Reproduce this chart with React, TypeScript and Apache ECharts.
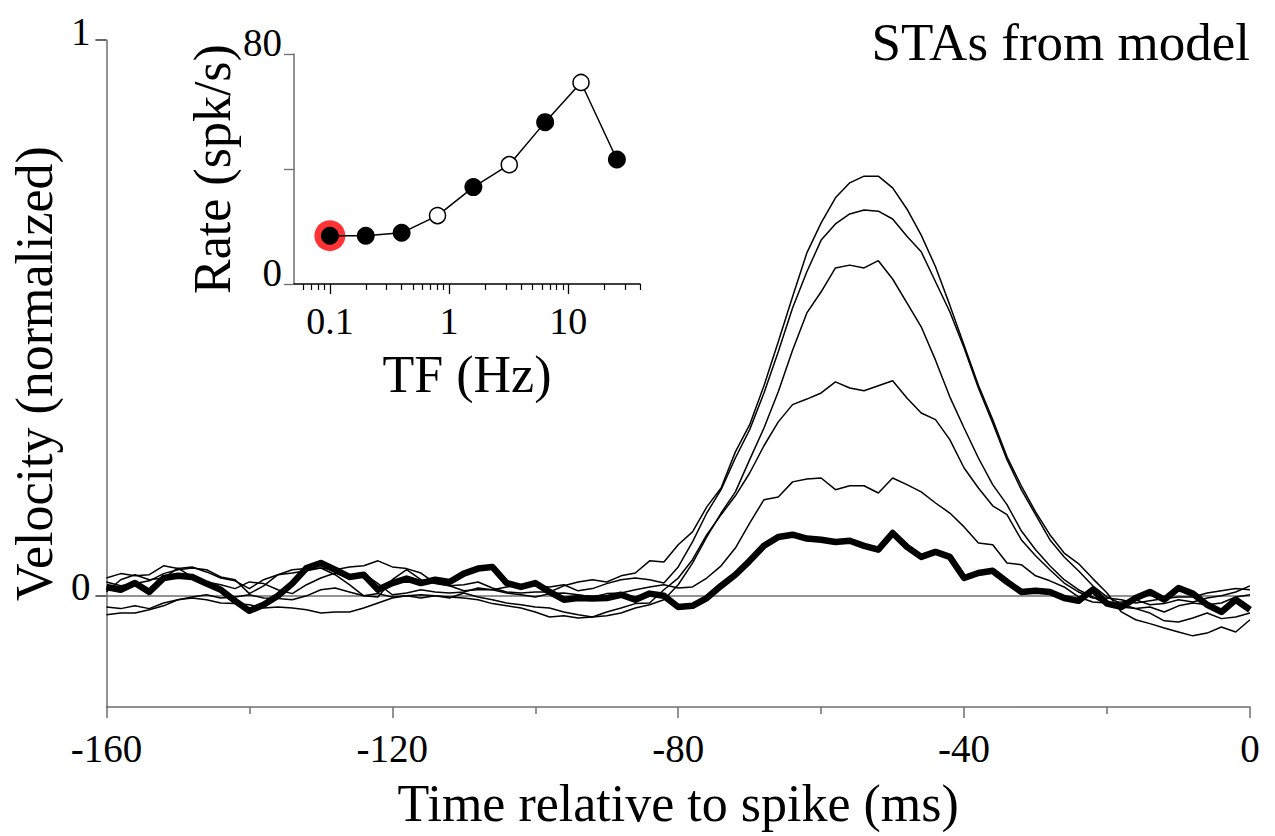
import React, { useEffect, useRef } from "react";
import * as echarts from "echarts";

// ---- Main panel data (time relative to spike, ms; velocity normalized) ----
const timeMs = [
  -160, -158, -156, -154, -152, -150, -148, -146, -144, -142,
  -140, -138, -136, -134, -132, -130, -128, -126, -124, -122,
  -120, -118, -116, -114, -112, -110, -108, -106, -104, -102,
  -100, -98, -96, -94, -92, -90, -88, -86, -84, -82,
  -80, -78, -76, -74, -72, -70, -68, -66, -64, -62,
  -60, -58, -56, -54, -52, -50, -48, -46, -44, -42,
  -40, -38, -36, -34, -32, -30, -28, -26, -24, -22,
  -20, -18, -16, -14, -12, -10, -8, -6, -4, -2,
  0,
];

const staA = [
  0.032, 0.040, 0.036, 0.038, 0.054, 0.049, 0.052, 0.043, 0.032, 0.027,
  0.013, 0.029, 0.038, 0.041, 0.045, 0.050, 0.047, 0.052, 0.054, 0.063,
  0.052, 0.049, 0.041, 0.023, 0.018, 0.020, 0.025, 0.014, 0.007, 0.005,
  0.007, 0.007, 0.018, 0.025, 0.029, 0.025, 0.036, 0.041, 0.063, 0.061,
  0.092, 0.115, 0.160, 0.194, 0.259, 0.308, 0.378, 0.457, 0.538, 0.617,
  0.671, 0.716, 0.743, 0.755, 0.755, 0.734, 0.696, 0.649, 0.592, 0.523,
  0.451, 0.379, 0.317, 0.250, 0.198, 0.151, 0.110, 0.077, 0.058, 0.031,
  0.005, -0.029, -0.043, -0.050, -0.058, -0.065, -0.072, -0.067, -0.056, -0.065,
  -0.043,
];

const staB = [
  0.025, 0.018, 0.022, 0.027, 0.040, 0.047, 0.050, 0.047, 0.034, 0.029,
  0.004, 0.018, 0.038, 0.047, 0.049, 0.050, 0.038, 0.020, 0.000, -0.002,
  0.029, 0.047, 0.029, 0.022, 0.018, 0.009, 0.011, 0.011, 0.016, 0.020,
  0.018, 0.016, 0.020, 0.009, 0.013, 0.022, 0.029, 0.032, 0.029, 0.023,
  0.052, 0.097, 0.149, 0.191, 0.248, 0.299, 0.365, 0.439, 0.518, 0.583,
  0.640, 0.669, 0.687, 0.694, 0.692, 0.678, 0.647, 0.619, 0.565, 0.511,
  0.446, 0.374, 0.311, 0.245, 0.191, 0.146, 0.101, 0.070, 0.045, 0.018,
  -0.002, -0.014, -0.023, -0.031, -0.045, -0.047, -0.040, -0.031, -0.041, -0.038,
  -0.031,
];

const staC = [
  -0.020, -0.023, -0.018, -0.023, -0.013, -0.007, -0.002, 0.002, -0.004, -0.002,
  0.002, -0.004, -0.005, -0.007, 0.000, 0.011, 0.014, 0.007, 0.000, 0.004,
  -0.002, 0.000, 0.002, 0.000, -0.002, -0.004, -0.007, -0.014, -0.018, -0.022,
  -0.029, -0.038, -0.036, -0.040, -0.038, -0.036, -0.031, -0.022, -0.016, -0.007,
  0.020, 0.059, 0.106, 0.149, 0.187, 0.245, 0.302, 0.367, 0.442, 0.509,
  0.547, 0.590, 0.595, 0.590, 0.603, 0.570, 0.527, 0.484, 0.424, 0.358,
  0.302, 0.248, 0.200, 0.164, 0.117, 0.083, 0.054, 0.029, 0.011, -0.002,
  -0.016, -0.020, -0.023, -0.020, -0.029, -0.018, -0.013, -0.016, -0.013, -0.002,
  0.002,
];

const staD = [
  -0.034, -0.031, -0.031, -0.025, -0.018, -0.007, -0.004, -0.007, -0.013, -0.014,
  -0.016, -0.022, -0.020, -0.022, -0.025, -0.031, -0.029, -0.029, -0.022, -0.013,
  -0.004, 0.000, -0.004, 0.000, -0.004, 0.005, -0.002, -0.007, -0.013, -0.016,
  -0.020, -0.022, -0.029, -0.034, -0.038, -0.029, -0.022, -0.014, -0.013, 0.011,
  0.032, 0.065, 0.110, 0.146, 0.180, 0.221, 0.270, 0.313, 0.344, 0.354,
  0.365, 0.385, 0.374, 0.369, 0.378, 0.387, 0.356, 0.329, 0.317, 0.281,
  0.230, 0.194, 0.162, 0.146, 0.101, 0.072, 0.047, 0.023, 0.007, -0.004,
  -0.004, -0.007, -0.013, -0.009, -0.005, -0.002, -0.002, 0.005, 0.009, 0.013,
  0.011,
];

const staE = [
  0.007, 0.029, 0.038, 0.029, 0.032, 0.050, 0.034, 0.025, 0.020, 0.013,
  0.025, 0.022, 0.011, 0.004, 0.020, 0.032, 0.041, 0.032, 0.040, 0.022,
  0.002, 0.005, 0.011, 0.007, 0.005, 0.007, 0.014, 0.011, 0.005, 0.002,
  -0.002, 0.004, 0.005, 0.002, -0.002, 0.004, 0.005, 0.011, 0.016, 0.020,
  0.014, 0.016, 0.032, 0.054, 0.086, 0.131, 0.173, 0.178, 0.205, 0.210,
  0.212, 0.191, 0.198, 0.198, 0.185, 0.212, 0.200, 0.187, 0.167, 0.149,
  0.124, 0.095, 0.092, 0.059, 0.056, 0.036, 0.027, 0.016, -0.002, -0.011,
  -0.013, -0.011, -0.007, -0.016, -0.014, -0.007, -0.011, -0.004, 0.000, 0.007,
  0.018,
];

// thick trace (lowest temporal frequency, highlighted in the inset)
const staLowTF = [
  0.016, 0.011, 0.023, 0.007, 0.032, 0.036, 0.034, 0.022, 0.011, -0.009,
  -0.027, -0.016, 0.000, 0.022, 0.050, 0.059, 0.047, 0.034, 0.038, 0.011,
  0.023, 0.031, 0.023, 0.029, 0.025, 0.040, 0.049, 0.052, 0.023, 0.016,
  0.023, 0.007, -0.007, -0.004, -0.005, -0.004, 0.002, -0.007, 0.004, 0.000,
  -0.020, -0.018, -0.004, 0.018, 0.038, 0.063, 0.090, 0.106, 0.110, 0.103,
  0.101, 0.097, 0.099, 0.090, 0.083, 0.113, 0.088, 0.070, 0.079, 0.070,
  0.032, 0.041, 0.045, 0.025, 0.007, 0.009, 0.007, -0.004, -0.009, 0.011,
  -0.014, -0.020, -0.004, 0.007, -0.007, 0.014, 0.004, -0.016, -0.029, -0.007,
  -0.025,
];

const thinTraces = [staA, staB, staC, staD, staE];

// ---- Inset data (tuning curve) ----
const tfHz = [0.1, 0.2, 0.4, 0.8, 1.6, 3.2, 6.4, 12.8, 25.6];
const rateSpk = [16.8, 16.8, 17.8, 23.8, 33.7, 41.5, 56.3, 70.1, 43.3];
const openMarker = [false, false, false, true, false, true, false, true, false];
const highlightIdx = 0;

const mainXLabels = [-160, -120, -80, -40, 0];
const mainYLabels = [0, 1];
const insetMajorTicks = [0.1, 1, 10];
const insetMinorTicks = [
  0.06, 0.07, 0.08, 0.09, 0.2, 0.3, 0.4, 0.5, 0.6, 0.7, 0.8, 0.9,
  2, 3, 4, 5, 6, 7, 8, 9, 20, 30, 40,
];
const insetYLabels = [0, 80];

const FONT = "'Liberation Serif', 'Times New Roman', Times, serif";
const AXIS_GRAY = "#6e6e6e";

export default function App() {
  const ref = useRef<HTMLDivElement>(null);

  useEffect(() => {
    document.body.style.margin = "0";
    document.body.style.overflow = "hidden";
    if (!ref.current) return;
    const chart = echarts.init(ref.current, undefined, { renderer: "svg" });

    const mainSeries: any[] = thinTraces.map((arr, si) => ({
      type: "line",
      xAxisIndex: 0,
      yAxisIndex: 0,
      data: timeMs.map((t, i) => [t, arr[i]]),
      showSymbol: false,
      symbol: "none",
      lineStyle: { color: "#000", width: 1.5 },
      z: 3,
      silent: true,
      ...(si === 0
        ? {
            markLine: {
              silent: true,
              symbol: ["none", "none"],
              label: { show: false },
              lineStyle: { color: AXIS_GRAY, width: 1.5, type: "solid" },
              data: [{ yAxis: 0 }],
              z: 1,
            },
          }
        : {}),
    }));
    mainSeries.push({
      type: "line",
      xAxisIndex: 0,
      yAxisIndex: 0,
      data: timeMs.map((t, i) => [t, staLowTF[i]]),
      showSymbol: false,
      symbol: "none",
      lineStyle: { color: "#000", width: 6.5, join: "round" },
      z: 4,
      silent: true,
    });

    const insetData = tfHz.map((f, i) => ({
      value: [f, rateSpk[i]],
      symbolSize: openMarker[i] ? 16 : 18,
      itemStyle: openMarker[i]
        ? { color: "#fff", borderColor: "#000", borderWidth: 1.5 }
        : { color: "#000", borderColor: "#000", borderWidth: 0 },
    }));

    const option: any = {
      animation: false,
      backgroundColor: "#ffffff",
      title: {
        text: "STAs from model",
        right: 20,
        top: 10,
        textStyle: { fontFamily: FONT, fontSize: 53, fontWeight: "normal", color: "#000" },
      },
      grid: [
        { left: 103, top: 40, width: 1147, height: 667 },
        { left: 294, top: 54, width: 346, height: 230 },
      ],
      xAxis: [
        {
          gridIndex: 0,
          type: "value",
          min: -160,
          max: 0,
          interval: 40,
          axisLine: { show: true, onZero: false, lineStyle: { color: AXIS_GRAY, width: 1.5 } },
          axisTick: { show: true, length: 11, lineStyle: { color: AXIS_GRAY, width: 1.5 } },
          minorTick: { show: true, splitNumber: 2, length: 7, lineStyle: { color: AXIS_GRAY, width: 1.5 } },
          splitLine: { show: false },
          axisLabel: {
            customValues: mainXLabels,
            fontFamily: FONT,
            fontSize: 39,
            color: "#000",
            margin: 22,
            formatter: (v: number) => String(v),
          },
          name: "Time relative to spike (ms)",
          nameLocation: "middle",
          nameGap: 70,
          nameTextStyle: { fontFamily: FONT, fontSize: 52, color: "#000" },
        },
        {
          gridIndex: 1,
          type: "log",
          logBase: 10,
          min: 0.05,
          max: 40,
          axisLine: { show: true, onZero: false, lineStyle: { color: "#000", width: 1.5 } },
          axisTick: { show: true, customValues: insetMajorTicks, length: 10, lineStyle: { color: "#000", width: 1.3 } },
          splitLine: { show: false },
          minorTick: { show: false },
          axisLabel: {
            customValues: insetMajorTicks,
            fontFamily: FONT,
            fontSize: 38,
            color: "#000",
            margin: 18,
            formatter: (v: number) => String(Number(Number(v).toPrecision(3))),
          },
          name: "TF (Hz)",
          nameLocation: "middle",
          nameGap: 64,
          nameTextStyle: { fontFamily: FONT, fontSize: 52, color: "#000" },
        },
        {
          gridIndex: 1,
          type: "log",
          logBase: 10,
          min: 0.05,
          max: 40,
          position: "bottom",
          offset: 0,
          axisLine: { show: false, onZero: false },
          axisTick: { show: true, customValues: insetMinorTicks, length: 6, lineStyle: { color: "#000", width: 1.2 } },
          axisLabel: { show: false },
          splitLine: { show: false },
        },
      ],
      yAxis: [
        {
          gridIndex: 0,
          type: "value",
          min: -0.2,
          max: 1,
          axisLine: { show: true, onZero: false, lineStyle: { color: AXIS_GRAY, width: 1.5 } },
          axisTick: { show: true, customValues: mainYLabels, length: 11, lineStyle: { color: "#333", width: 1.5 } },
          splitLine: { show: false },
          axisLabel: {
            customValues: mainYLabels,
            fontFamily: FONT,
            fontSize: 39,
            color: "#000",
            margin: 16,
            verticalAlign: "bottom",
            lineHeight: 18,
            formatter: (v: number) => String(v),
          },
          name: "Velocity (normalized)",
          nameLocation: "middle",
          nameGap: 40,
          nameRotate: 90,
          nameTextStyle: { fontFamily: FONT, fontSize: 52, color: "#000" },
        },
        {
          gridIndex: 1,
          type: "value",
          min: 0,
          max: 80,
          interval: 40,
          axisLine: { show: true, onZero: false, lineStyle: { color: AXIS_GRAY, width: 1.5 } },
          axisTick: { show: true, length: 10, lineStyle: { color: AXIS_GRAY, width: 1.3 } },
          splitLine: { show: false },
          axisLabel: {
            customValues: insetYLabels,
            fontFamily: FONT,
            fontSize: 39,
            color: "#000",
            margin: 12,
            verticalAlign: "bottom",
            lineHeight: 24,
            formatter: (v: number) => String(v),
          },
          name: "Rate (spk/s)",
          nameLocation: "middle",
          nameGap: 56,
          nameRotate: 90,
          nameTextStyle: { fontFamily: FONT, fontSize: 52, color: "#000" },
        },
      ],
      series: [
        ...mainSeries,
        {
          type: "scatter",
          xAxisIndex: 1,
          yAxisIndex: 1,
          data: [[tfHz[highlightIdx], rateSpk[highlightIdx]]],
          symbol: "circle",
          symbolSize: 31,
          itemStyle: { color: "#ff0000" },
          z: 5,
          silent: true,
        },
        {
          type: "line",
          xAxisIndex: 1,
          yAxisIndex: 1,
          data: insetData,
          symbol: "circle",
          showSymbol: true,
          lineStyle: { color: "#000", width: 1.5 },
          z: 6,
          silent: true,
        },
      ],
    };

    chart.setOption(option);
    return () => {
      chart.dispose();
    };
  }, []);

  return <div ref={ref} style={{ width: 1275, height: 836, background: "#fff" }} />;
}
